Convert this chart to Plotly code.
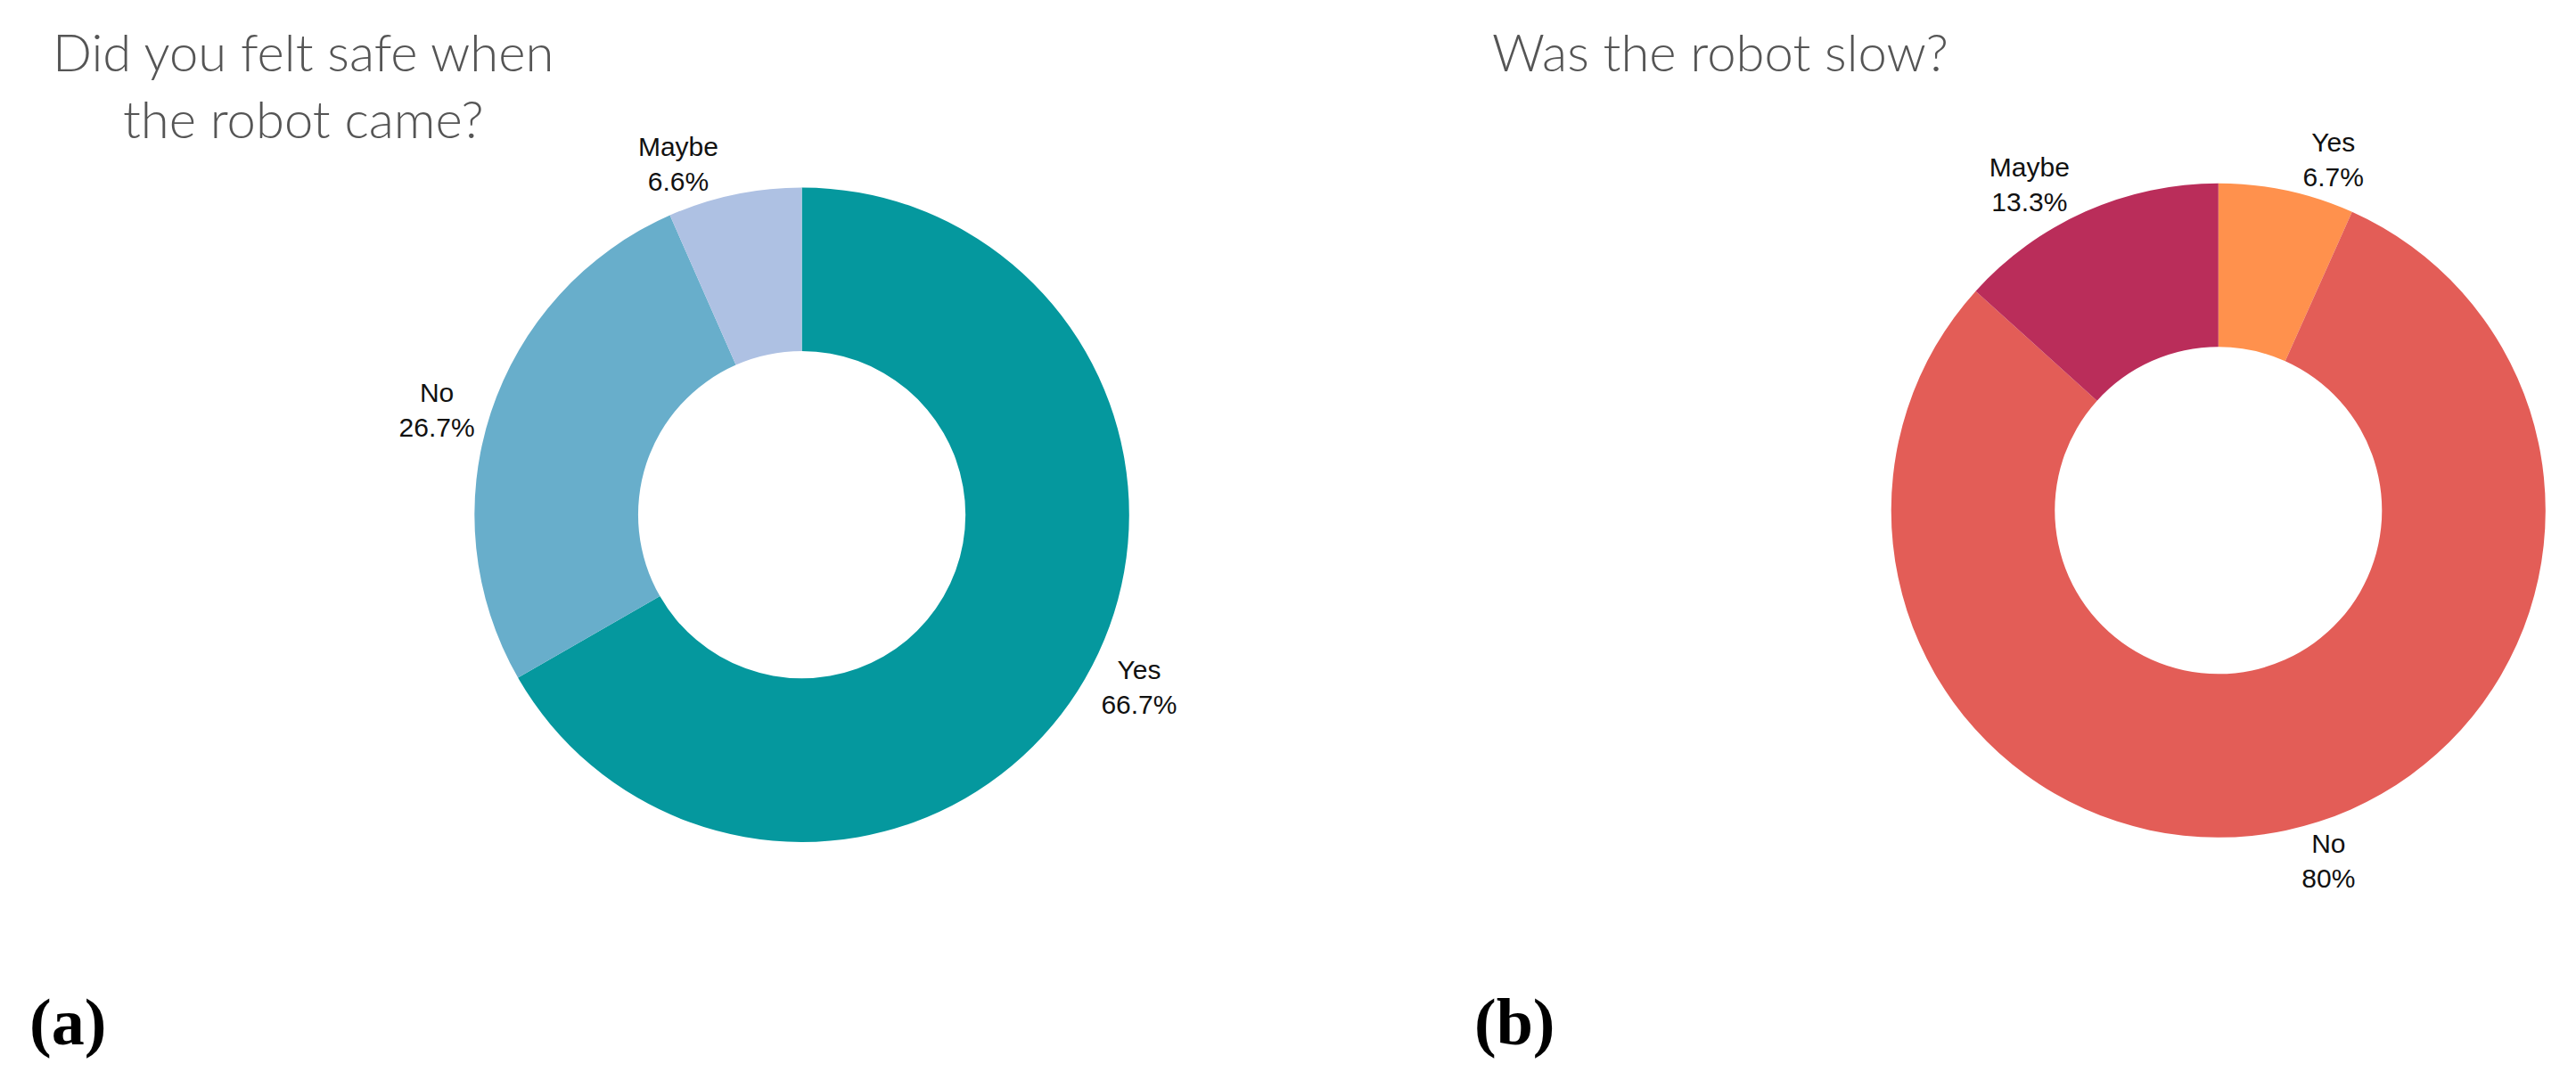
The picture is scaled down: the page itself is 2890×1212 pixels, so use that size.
import plotly.graph_objects as go

# left chart: "Did you felt safe when the robot came?"
safe_labels = ["Yes", "No", "Maybe"]
safe_values = [66.7, 26.7, 6.6]
safe_colors = ["#05989E", "#68AECB", "#AEC1E3"]

# right chart: "Was the robot slow?"
slow_labels = ["Yes", "No", "Maybe"]
slow_values = [6.7, 80, 13.3]
slow_colors = ["#FF914D", "#E35D57", "#BA2D5A"]

label_font = dict(family="Liberation Sans, Arial, sans-serif", size=30, color="#111111")
title_font = dict(family="Lato, Open Sans, sans-serif", size=58, color="#555555", weight=300)
tag_font = dict(family="Liberation Serif, DejaVu Serif, serif", size=74, color="#000000", weight="bold")

fig = go.Figure()
fig.add_trace(go.Pie(
    labels=safe_labels, values=safe_values, hole=0.5, sort=False, direction="clockwise", rotation=0,
    marker=dict(colors=safe_colors, line=dict(width=0)),
    texttemplate="%{label}<br>%{value}%", textposition="outside", textfont=label_font,
    domain=dict(x=[0.3085 - 0.165, 0.3085 + 0.165], y=[0.530 - 0.303, 0.530 + 0.303]),
    showlegend=False, hoverinfo="label+value",
))
fig.add_trace(go.Pie(
    labels=slow_labels, values=slow_values, hole=0.5, sort=False, direction="clockwise", rotation=0,
    marker=dict(colors=slow_colors, line=dict(width=0)),
    texttemplate="%{label}<br>%{value}%", textposition="outside", textfont=label_font,
    domain=dict(x=[0.8584 - 0.127, 0.8584 + 0.127], y=[0.534 - 0.31, 0.534 + 0.31]),
    showlegend=False, hoverinfo="label+value",
))

fig.add_annotation(text="Did you felt safe when<br>the robot came?", x=0.115, y=0.928, xref="paper", yref="paper",
                   xanchor="center", yanchor="middle", showarrow=False, font=title_font)
fig.add_annotation(text="Was the robot slow?", x=0.665, y=0.959, xref="paper", yref="paper",
                   xanchor="center", yanchor="middle", showarrow=False, font=title_font)
fig.add_annotation(text="(a)", x=0.008, y=0.06, xref="paper", yref="paper",
                   xanchor="left", yanchor="middle", showarrow=False, font=tag_font)
fig.add_annotation(text="(b)", x=0.569, y=0.06, xref="paper", yref="paper",
                   xanchor="left", yanchor="middle", showarrow=False, font=tag_font)

fig.update_layout(
    width=2890, height=1212,
    margin=dict(l=0, r=0, t=0, b=0),
    paper_bgcolor="white", plot_bgcolor="white",
)
fig.write_html("out.html")
